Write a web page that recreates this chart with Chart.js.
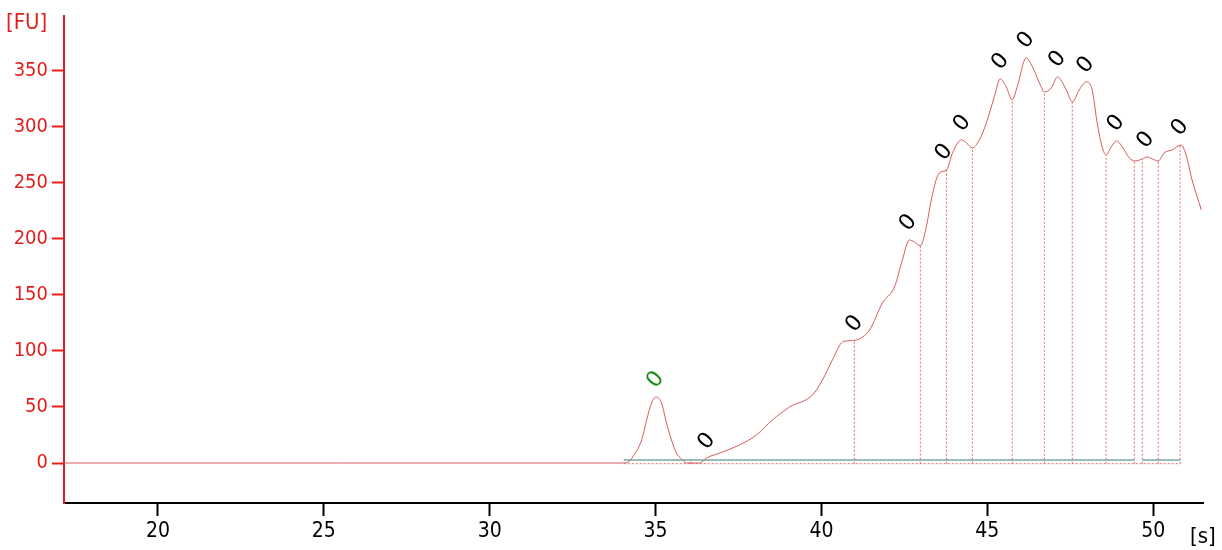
<!DOCTYPE html>
<html>
<head>
<meta charset="utf-8">
<script src="https://cdn.jsdelivr.net/npm/chart.js@4/dist/chart.umd.min.js"></script>
<style>
  html, body { margin: 0; padding: 0; background: #fff; }
  canvas { display: block; }
</style>
</head>
<body>
<canvas id="myChart" width="1222" height="550"></canvas>
<script>
// electropherogram trace, time [s] vs fluorescence [FU]
const traceTimes = [17.17, 34.04, 34.22, 34.31, 34.58, 34.73, 34.88, 35.0, 35.18, 35.33, 35.48, 35.63, 35.78, 35.93,
    36.33, 36.54, 37.02, 37.53, 38.04, 38.52, 39.04, 39.73, 40.03, 40.33, 40.6, 40.75, 41.05, 41.45, 41.84,
    42.2, 42.44, 42.65, 42.8, 42.98, 43.16, 43.31, 43.55, 43.77, 43.95, 44.22, 44.37, 44.55, 44.76, 44.97,
    45.21, 45.39, 45.57, 45.75, 45.9, 46.17, 46.36, 46.57, 46.72, 46.93, 47.11, 47.38, 47.56, 47.77, 47.98,
    48.16, 48.31, 48.46, 48.58, 48.73, 48.89, 49.07, 49.28, 49.46, 49.67, 49.82, 49.97, 50.15, 50.33, 50.57,
    50.84, 50.99, 51.17, 51.45];
const traceValues = [0, 0, 1.8, 5.4, 20.5, 38.4, 53.6, 58.9, 53.6, 35.7, 20.5, 8.9, 3.6, 0,
    0, 4.5, 9.8, 16.1, 25.0, 38.4, 50.0, 60.7, 74.1, 92.0, 107.1, 108.9, 109.8, 118.8, 142.9,
    157.1, 181.3, 199.1, 197.3, 193.8, 210.7, 234.8, 258.9, 261.6, 276.8, 288.4, 285.7, 281.3, 288.4, 303.6,
    326.8, 342.9, 335.7, 324.1, 335.7, 361.6, 353.6, 339.3, 331.3, 334.8, 344.6, 333.0, 322.3, 333.0, 340.2,
    333.0, 303.6, 282.1, 275.0, 282.1, 287.5, 282.1, 272.3, 269.6, 271.4, 273.2, 271.4, 269.6, 276.8, 279.5,
    283.9, 275.0, 252.7, 225.9];

// peak boundaries (dotted drop lines)
const boundaryTimes = [36.05, 40.99, 42.98, 43.77, 44.55, 45.75, 46.72, 47.56, 48.58, 49.43, 49.67, 50.15, 50.81];
const boundaryValues = [2, 109.8, 193.8, 261.6, 281.3, 324.1, 331.3, 322.3, 275.0, 269.6, 271.4, 269.6, 283.9];

// baseline segments
const baselineStarts = [34.04, 49.67];
const baselineEnds = [49.43, 50.81];
const baselineLevel = 2.7;

// peak labels
const peakTimes = [35.0, 36.55, 41.0, 42.62, 43.7, 44.25, 45.4, 46.17, 47.12, 47.97, 48.88, 49.78, 50.81];
const peakValues = [59, 4, 109, 199, 262, 288, 343, 362, 345, 340, 288, 273, 284];
const peakLabels = ['0', '0', '0', '0', '0', '0', '0', '0', '0', '0', '0', '0', '0'];
const peakColors = ['#1f8a1f', '#000', '#000', '#000', '#000', '#000', '#000', '#000', '#000', '#000', '#000', '#000', '#000'];

const xTicks = [20, 25, 30, 35, 40, 45, 50];
const yTicks = [0, 50, 100, 150, 200, 250, 300, 350];

const RED = '#e41e1e';
const TRACE = 'rgb(214, 90, 90)';
const FONT = '"DejaVu Sans Condensed", "DejaVu Sans"';

const datasets = [];
datasets.push({
    data: traceTimes.map((t, i) => ({ x: t, y: traceValues[i] })),
    borderColor: TRACE,
    borderWidth: 1,
    pointRadius: 0,
    cubicInterpolationMode: 'monotone',
    order: 0,
});
baselineStarts.forEach((s, i) => {
    datasets.push({
        data: [{ x: s, y: baselineLevel }, { x: baselineEnds[i], y: baselineLevel }],
        borderColor: 'rgb(150, 190, 185)',
        borderWidth: 2,
        pointRadius: 0,
        order: 2,
    });
});
datasets.push({
    data: [{ x: 34.04, y: -0.6 }, { x: 50.81, y: -0.6 }],
    borderColor: 'rgb(220, 110, 110)',
    borderWidth: 1,
    borderDash: [2, 2],
    pointRadius: 0,
    order: 1,
});
boundaryTimes.forEach((t, i) => {
    datasets.push({
        data: [{ x: t, y: -0.6 }, { x: t, y: boundaryValues[i] }],
        borderColor: 'rgb(220, 110, 110)',
        borderWidth: 1,
        borderDash: [2, 2],
        pointRadius: 0,
        order: 1,
    });
});

const extraText = {
    id: 'extraText',
    afterDatasetsDraw(chart) {
        const { ctx, scales: { x, y } } = chart;
        ctx.save();
        ctx.font = '22px "DejaVu Sans"';
        ctx.textAlign = 'center';
        ctx.textBaseline = 'middle';
        peakTimes.forEach((t, i) => {
            const px = x.getPixelForValue(t);
            const py = y.getPixelForValue(peakValues[i]) - 17;
            ctx.save();
            ctx.translate(px, py);
            ctx.rotate(-50 * Math.PI / 180);
            ctx.fillStyle = peakColors[i];
            ctx.fillText(peakLabels[i], 0, 0);
            ctx.restore();
        });
        ctx.textBaseline = 'alphabetic';
        ctx.textAlign = 'left';
        ctx.font = '22px ' + FONT;
        ctx.fillStyle = RED;
        ctx.fillText('[FU]', 6, 29);
        ctx.fillStyle = '#000';
        ctx.fillText('[s]', 1190, 543);
        ctx.restore();
    }
};

const ctx = document.getElementById('myChart');
const myChart = new Chart(ctx, {
    type: 'line',
    data: { datasets: datasets },
    plugins: [extraText],
    options: {
        responsive: false,
        animation: false,
        devicePixelRatio: 1,
        layout: { padding: { top: 16, right: 19, left: 0, bottom: 0 } },
        plugins: { legend: { display: false }, tooltip: { enabled: false } },
        scales: {
            x: {
                type: 'linear',
                min: 17.17,
                max: 51.5,
                afterBuildTicks: scale => { scale.ticks = xTicks.map(v => ({ value: v })); },
                afterFit: scale => { scale.height = 47; },
                border: { color: '#000', width: 2 },
                grid: { drawOnChartArea: false, drawTicks: true, tickLength: 13, tickColor: '#000', tickWidth: 2 },
                ticks: { color: '#000', font: { family: FONT, size: 21 }, padding: 3, maxRotation: 0 },
            },
            y: {
                min: -35.7,
                max: 399,
                afterBuildTicks: scale => { scale.ticks = yTicks.map(v => ({ value: v })); },
                afterFit: scale => { scale.width = 64; },
                border: { color: RED, width: 2 },
                grid: { drawOnChartArea: false, drawTicks: true, tickLength: 12, tickColor: RED, tickWidth: 2 },
                ticks: { color: RED, font: { family: FONT, size: 20 }, padding: 4 },
            },
        },
    },
});
</script>
</body>
</html>
